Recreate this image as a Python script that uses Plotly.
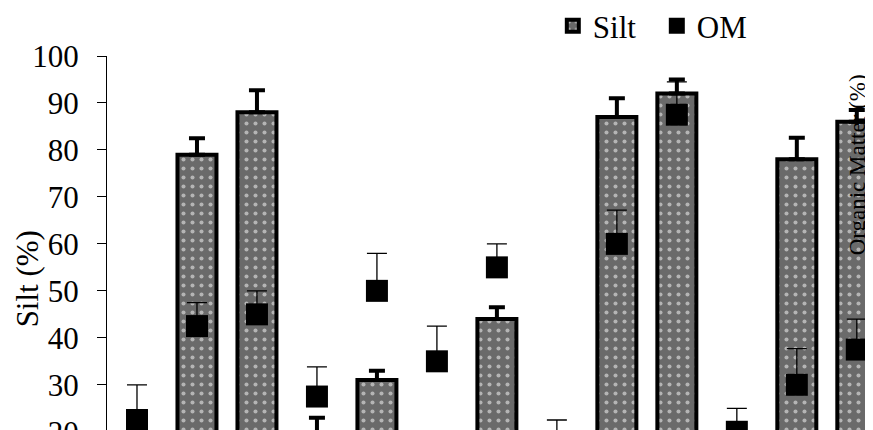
import plotly.graph_objects as go

categories = ["S1", "S2", "S3", "S4", "S5", "S6", "S7", "S8", "S9", "S10", "S11", "S12", "S13"]
silt = [12, 79, 88, 19, 31, 15, 44, 12, 87, 92, 10, 78, 86]
silt_err = [2, 3.5, 4.7, 4, 2, 2, 2.5, 2, 4, 3, 2, 4.6, 2.5]
om = [22.5, 42.5, 45, 27.5, 50, 35, 55, 17, 60, 87.5, 20, 30, 37.5]
om_err = [7.5, 5, 5, 6.3, 8, 7.5, 5, 5.5, 7.2, 7, 5, 7.7, 6.5]
y_ticks = [20, 30, 40, 50, 60, 70, 80, 90, 100]

FONT = "Liberation Serif, Times New Roman, serif"

fig = go.Figure()
fig.add_trace(go.Bar(
    x=categories, y=silt, name="Silt", width=0.65,
    marker=dict(color="#6a6a6a",
                line=dict(color="black", width=4),
                pattern=dict(shape=".", fgcolor="white", bgcolor="#6a6a6a",
                             size=9, solidity=0.16)),
    error_y=dict(type="data", symmetric=False, array=silt_err,
                 arrayminus=[0] * len(silt_err), color="black",
                 thickness=4, width=8),
))
fig.add_trace(go.Scatter(
    x=categories, y=om, name="OM", mode="markers",
    marker=dict(symbol="square", size=22, color="black"),
    error_y=dict(type="data", symmetric=False, array=om_err,
                 arrayminus=[0] * len(om_err), color="black",
                 thickness=1.3, width=10),
))

fig.update_layout(
    width=873, height=430,
    margin=dict(l=99, r=8, t=48, b=6, autoexpand=False),
    paper_bgcolor="white", plot_bgcolor="white",
    font=dict(family=FONT, size=31, color="black"),
    showlegend=True,
    legend=dict(orientation="h", x=0.582, y=1.0798, xanchor="left", yanchor="middle",
                font=dict(family=FONT, size=31), bgcolor="rgba(0,0,0,0)",
                itemwidth=30, tracegroupgap=0, entrywidth=59, entrywidthmode="pixels"),
    xaxis=dict(range=[-0.5, 12.27], showticklabels=False, showline=False,
               showgrid=False, zeroline=False, ticks="", automargin=False),
    yaxis=dict(range=[19.95, 100], tickvals=y_ticks,
               showline=True, linecolor="black", linewidth=1.3,
               ticks="outside", ticklen=9, tickcolor="black", tickwidth=1.3,
               ticklabelstandoff=12, automargin=False, ticklabeloverflow="allow",
               showgrid=False, zeroline=False,
               tickfont=dict(family=FONT, size=31)),
    annotations=[
        dict(text="Silt (%)", xref="paper", yref="paper", x=-0.1044, y=0.406,
             xanchor="center", yanchor="middle",
             textangle=-90, showarrow=False, font=dict(family=FONT, size=31)),
        dict(text="Organic Matter (%)", xref="paper", yref="paper", x=0.980, y=0.711,
             xanchor="center", yanchor="middle",
             textangle=-90, showarrow=False, font=dict(family=FONT, size=23)),
    ],
)

fig.write_html("out.html")
